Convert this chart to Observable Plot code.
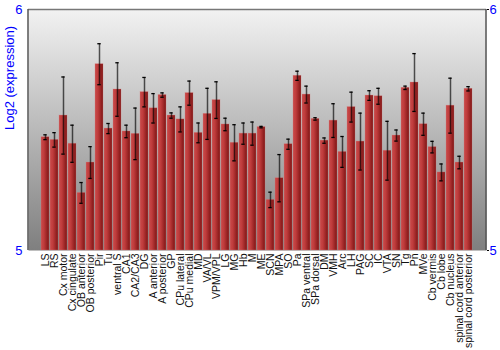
<!DOCTYPE html>
<html>
<head>
<meta charset="utf-8">
<script src="https://cdn.jsdelivr.net/npm/d3@7"></script>
<script src="https://cdn.jsdelivr.net/npm/@observablehq/plot@0.6"></script>
<style>
  html, body { margin: 0; padding: 0; background: #fff; }
  #chart { width: 500px; height: 350px; }
</style>
</head>
<body>
<div id="chart"></div>
<script>
const regions = ["LS","RS","Cx motor","Cx cingulate","OB anterior","OB posterior","Pir","Tu","ventral S","CA1","CA2/CA3","DG","A anterior","A posterior","GP","CPu lateral","CPu medial","MD","VA/VL","VPM/VPL","LG","MG","Hb","M","ME","SCN","MPA","SO","Pa","SPa ventral","SPa dorsal","DM","VMH","Arc","LH","PAG","SC","IC","VTA","SN","Tg","Pn","MVe","Cb vermis","Cb lobe","Cb nucleus","spinal cord anterior","spinal cord posterior"];
const expression = [5.47,5.459,5.56,5.443,5.239,5.365,5.773,5.506,5.668,5.494,5.484,5.657,5.59,5.645,5.56,5.544,5.653,5.488,5.567,5.624,5.523,5.447,5.485,5.485,5.512,5.21,5.30,5.441,5.725,5.647,5.546,5.456,5.539,5.409,5.595,5.452,5.643,5.64,5.414,5.477,5.675,5.697,5.524,5.429,5.324,5.601,5.365,5.671];
const errors = [0.01,0.03,0.16,0.077,0.043,0.066,0.085,0.021,0.111,0.026,0.107,0.061,0.061,0.009,0.011,0.052,0.05,0.041,0.106,0.076,0.026,0.075,0.044,0.048,0.003,0.032,0.098,0.021,0.019,0.035,0.005,0.011,0.07,0.064,0.062,0.118,0.02,0.033,0.122,0.023,0.007,0.12,0.046,0.024,0.035,0.114,0.026,0.009];
const yTicks = [5, 6];
const yLabel = "Log2 (expression)";

const data = regions.map((r, i) => ({region: r, value: expression[i], err: errors[i]}));
const font = "Liberation Sans, Arial, sans-serif";

const chart = Plot.plot({
  width: 500,
  height: 350,
  marginLeft: 28,
  marginRight: 14,
  marginTop: 9,
  marginBottom: 100,
  style: {fontFamily: font, fontSize: "11px", background: "#fff"},
  x: {domain: regions, padding: 0.1, label: null},
  y: {domain: [5, 6], ticks: yTicks, label: null},
  marks: [
    Plot.frame({fill: "url(#bgGrad)", stroke: "none"}),
    Plot.barY(data, {x: "region", y1: 5, y2: "value", fill: "url(#barGrad)", stroke: "#d98080", strokeOpacity: 0.5, strokeWidth: 0.6}),
    Plot.ruleX(data, {x: "region", y1: d => d.value - d.err, y2: d => d.value + d.err, stroke: "#000", strokeOpacity: 0.65, strokeWidth: 1.5}),
    Plot.tickY(data, {x: "region", y: d => d.value - d.err, stroke: "#000", strokeWidth: 1.3, insetLeft: 2.3, insetRight: 2.3}),
    Plot.tickY(data, {x: "region", y: d => d.value + d.err, stroke: "#000", strokeWidth: 1.3, insetLeft: 2.3, insetRight: 2.3}),
    Plot.axisX({tickSize: 0, tickRotate: -90, tickPadding: 3, fontSize: 10.5, fill: "#111", label: null}),
    Plot.axisY(yTicks, {anchor: "left", tickSize: 0, tickPadding: 6, fill: "#0000ff", fontSize: 13, label: null, tickFormat: d => String(d)}),
    Plot.axisY(yTicks, {anchor: "right", tickSize: 2, tickPadding: 1, fill: "#0000ff", stroke: "#000", fontSize: 13, label: null, tickFormat: d => String(d)}),
    Plot.ruleY([6], {stroke: "#777", strokeWidth: 1.5}),
    Plot.text([yLabel], {frameAnchor: "left", dx: -19, rotate: -90, fill: "#0000ff", fontSize: 13, text: d => d})
  ]
});

const svg = chart.tagName.toLowerCase() === "svg" ? chart : chart.querySelector("svg");
const ns = "http://www.w3.org/2000/svg";
const defs = document.createElementNS(ns, "defs");
defs.innerHTML = `
  <linearGradient id="bgGrad" x1="0" y1="0" x2="0" y2="1">
    <stop offset="0" stop-color="#f2f2f2"/>
    <stop offset="1" stop-color="#7f7f7f"/>
  </linearGradient>
  <linearGradient id="barGrad" x1="0" y1="0" x2="1" y2="0">
    <stop offset="0" stop-color="#c84a4a"/>
    <stop offset="0.35" stop-color="#c03c3c"/>
    <stop offset="1" stop-color="#7e1414"/>
  </linearGradient>`;
svg.insertBefore(defs, svg.firstChild);

// side axis lines
const lines = document.createElementNS(ns, "g");
lines.innerHTML = `<line x1="28" x2="28" y1="9" y2="250" stroke="#555" stroke-width="1.5"/>
<line x1="486" x2="486" y1="9" y2="250" stroke="#555" stroke-width="1.5"/>`;
svg.appendChild(lines);

document.getElementById("chart").appendChild(chart);
</script>
</body>
</html>
